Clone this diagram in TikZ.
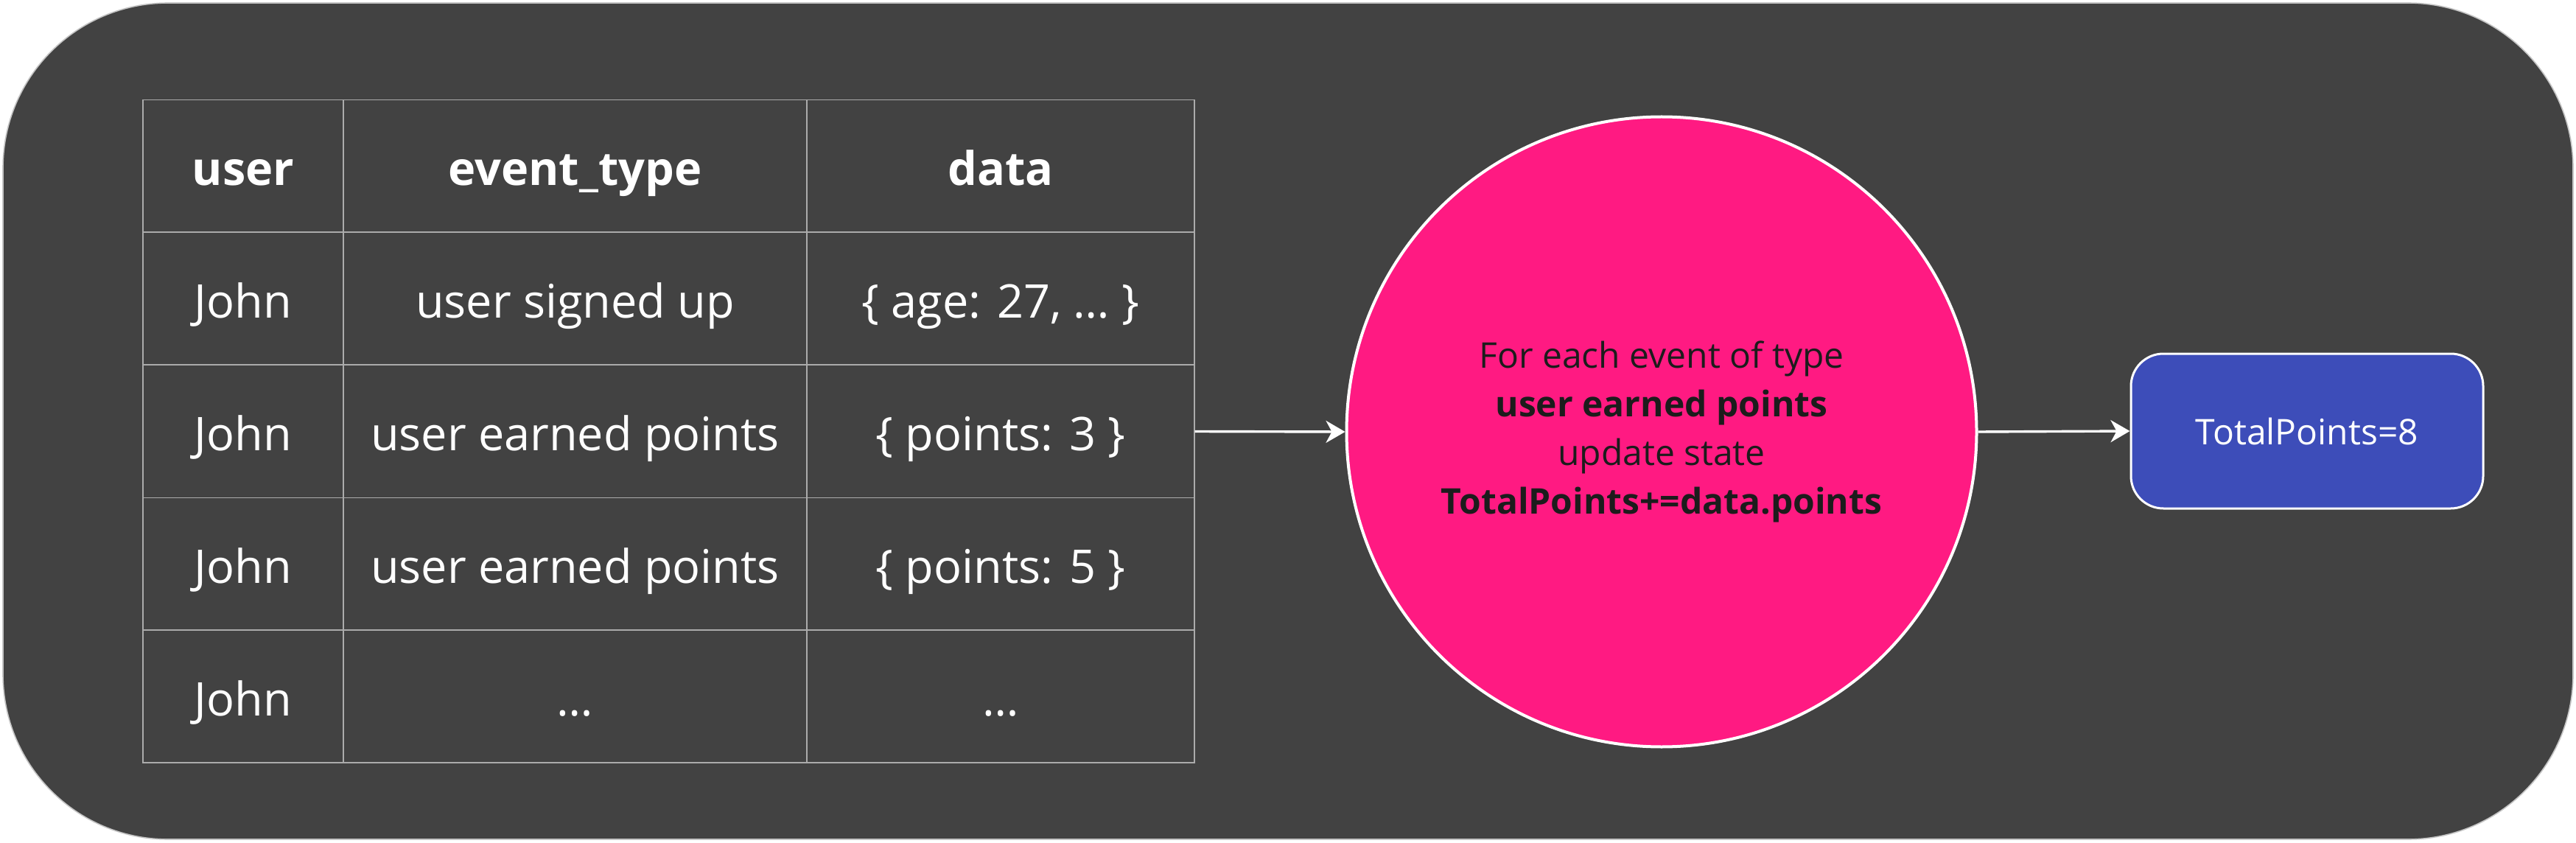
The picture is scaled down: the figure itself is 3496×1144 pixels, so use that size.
\documentclass[tikz,border=0pt]{standalone}
\usepackage{fontspec}
\setmainfont{Open Sans}
\usetikzlibrary{arrows.meta}
\definecolor{bg}{HTML}{424242}
\definecolor{pinkc}{HTML}{FF1A82}
\definecolor{boxblue}{HTML}{3D4DB9}
\definecolor{gridc}{HTML}{ABABAB}
\definecolor{ink}{HTML}{1C1C1C}
\tikzset{
  cell/.style={draw=gridc, line width=0.6pt, minimum height=90pt, inner sep=0pt, text height=30pt, text depth=4pt, anchor=center, text=white, font=\fontsize{31.5}{38}\selectfont},
  headcell/.style={cell, font=\fontsize{31.5}{38}\selectfont\bfseries},
  wA/.style={minimum width=136pt},
  wB/.style={minimum width=314.5pt},
  wC/.style={minimum width=263pt},
  conn/.style={draw=white, line width=1.7pt, -{Stealth[length=13pt, width=15pt, inset=4pt]}},
}
\begin{document}
\begin{tikzpicture}[x=0.5pt,y=-0.5pt]
\useasboundingbox (0,0) rectangle (3496,1144);
\draw[fill=bg, draw=gridc!70, line width=0.8pt, rounded corners=112pt] (4,4) rectangle (3492,1139);
% header
\node[headcell, wA] (h1) at (330,225.5) {user};
\node[headcell, wB] (h2) at (780.5,225.5) {event\_type};
\node[headcell, wC] (h3) at (1358,225.5) {data};
% row 1
\node[cell, wA] (r1a) at (330,405) {John};
\node[cell, wB] (r1b) at (780.5,405) {user signed up};
\node[cell, wC] (r1c) at (1358,405) {\{ age: 27, … \}};
% row 2
\node[cell, wA] (r2a) at (330,585.5) {John};
\node[cell, wB] (r2b) at (780.5,585.5) {user earned points};
\node[cell, wC] (r2c) at (1358,585.5) {\{ points: 3 \}};
% row 3
\node[cell, wA] (r3a) at (330,765.5) {John};
\node[cell, wB] (r3b) at (780.5,765.5) {user earned points};
\node[cell, wC] (r3c) at (1358,765.5) {\{ points: 5 \}};
% row 4
\node[cell, wA] (r4a) at (330,945) {John};
\node[cell, wB] (r4b) at (780.5,945) {…};
\node[cell, wC] (r4c) at (1358,945) {…};
% circle
\node[circle, fill=pinkc, draw=white, line width=2pt, minimum size=427.5pt, inner sep=0pt, align=center, text=ink, font=\fontsize{24}{33}\selectfont] (proc) at (2255,586)
  {For each event of type\\ \textbf{user earned points}\\ update state\\ \textbf{TotalPoints+=data.points}};
% result box
\node[rectangle, rounded corners=22pt, fill=boxblue, draw=white, line width=1.5pt, minimum width=239pt, minimum height=105pt, text=white, font=\fontsize{24}{29}\selectfont] (tot) at (3131,585) {TotalPoints=8};
% connectors
\draw[conn] (r2c.east) -- (proc.west);
\draw[conn] (proc.east) -- (tot.west);
\end{tikzpicture}
\end{document}
